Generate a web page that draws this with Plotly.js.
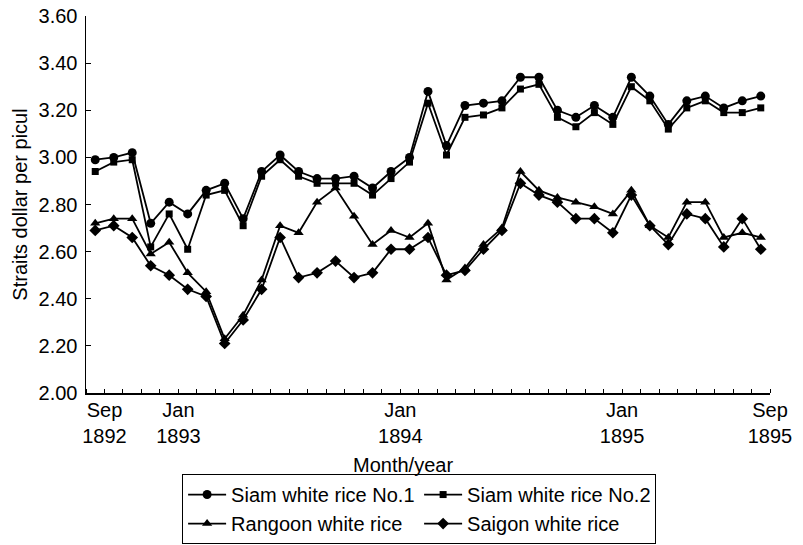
<!DOCTYPE html>
<html>
<head>
<meta charset="utf-8">
<script src="https://cdn.plot.ly/plotly-3.0.1.min.js"></script>
<style>html,body{margin:0;padding:0;background:#fff;}#chart{width:803px;height:545px;}</style>
</head>
<body>
<div id="chart"></div>
<script>
// Monthly observations, Sep 1892 .. Sep 1895
var months = ["Sep 1892","Oct 1892","Nov 1892","Dec 1892","Jan 1893","Feb 1893","Mar 1893","Apr 1893","May 1893","Jun 1893","Jul 1893","Aug 1893","Sep 1893","Oct 1893","Nov 1893","Dec 1893","Jan 1894","Feb 1894","Mar 1894","Apr 1894","May 1894","Jun 1894","Jul 1894","Aug 1894","Sep 1894","Oct 1894","Nov 1894","Dec 1894","Jan 1895","Feb 1895","Mar 1895","Apr 1895","May 1895","Jun 1895","Jul 1895","Aug 1895","Sep 1895"];

var siam1 = [2.99,3.00,3.02,2.72,2.81,2.76,2.86,2.89,2.74,2.94,3.01,2.94,2.91,2.91,2.92,2.87,2.94,3.00,3.28,3.05,3.22,3.23,3.24,3.34,3.34,3.20,3.17,3.22,3.17,3.34,3.26,3.14,3.24,3.26,3.21,3.24,3.26];
var siam2 = [2.94,2.98,2.99,2.62,2.76,2.61,2.84,2.86,2.71,2.92,2.99,2.92,2.89,2.89,2.89,2.84,2.91,2.98,3.23,3.01,3.17,3.18,3.21,3.29,3.31,3.17,3.13,3.19,3.14,3.30,3.24,3.12,3.21,3.24,3.19,3.19,3.21];
var rangoon = [2.72,2.74,2.74,2.59,2.64,2.51,2.43,2.23,2.33,2.48,2.71,2.68,2.81,2.87,2.75,2.63,2.69,2.66,2.72,2.48,2.53,2.63,2.70,2.94,2.86,2.83,2.81,2.79,2.76,2.86,2.71,2.66,2.81,2.81,2.66,2.68,2.66];
var saigon = [2.69,2.71,2.66,2.54,2.50,2.44,2.41,2.21,2.31,2.44,2.66,2.49,2.51,2.56,2.49,2.51,2.61,2.61,2.66,2.50,2.52,2.61,2.69,2.89,2.84,2.81,2.74,2.74,2.68,2.84,2.71,2.63,2.76,2.74,2.62,2.74,2.61];

var seriesNames = ["Siam white rice No.1","Siam white rice No.2","Rangoon white rice","Saigon white rice"];
var tickLabels = ["Sep<br>1892","Jan<br>1893","Jan<br>1894","Jan<br>1895","Sep<br>1895"];
var tickMonths = ["Sep 1892","Jan 1893","Jan 1894","Jan 1895","Sep 1895"];
var yTicks = [2.00,2.20,2.40,2.60,2.80,3.00,3.20,3.40,3.60];
var xTitle = "Month/year";
var yTitle = "Straits dollar per picul";

var xi = months.map(function(m, i){ return i; });
// labels sit on the category boundary just right of their month
var tickPos = tickMonths.map(function(m){ return months.indexOf(m) + 0.5; });

var symbols = ["circle","square","triangle-up","diamond"];
var sizes = [9,7,9,9];
var data = [siam1, siam2, rangoon, saigon].map(function(vals, k){
  return {
    x: xi, y: vals, name: seriesNames[k], type: "scatter", mode: "lines+markers",
    text: months, hoverinfo: "text+y+name",
    line: {color: "#000", width: 1.8},
    marker: {symbol: symbols[k], size: sizes[k], color: "#000"}
  };
});

var font = {family: "Arial, 'Liberation Sans', sans-serif", size: 20, color: "#000"};
var layout = {
  width: 803, height: 545,
  margin: {l: 86, r: 33, t: 16, b: 152, pad: 0, autoexpand: false},
  paper_bgcolor: "#fff", plot_bgcolor: "#fff",
  font: font,
  showlegend: true,
  xaxis: {
    range: [-0.5, 36.5], showgrid: false, zeroline: false,
    showline: true, linecolor: "#000", linewidth: 1.5,
    tickmode: "array", tickvals: tickPos, ticktext: tickLabels,
    ticks: "", ticklabelstandoff: -2,
    minor: {tickmode: "linear", tick0: 0.5, dtick: 1, ticks: "inside", ticklen: 4, tickwidth: 1, tickcolor: "#000", showgrid: false},
    automargin: false
  },
  yaxis: {
    range: [2.0, 3.6], showgrid: false, zeroline: false,
    showline: true, linecolor: "#000", linewidth: 1.5,
    tickmode: "array", tickvals: yTicks, ticktext: yTicks.map(function(v){ return v.toFixed(2); }),
    ticks: "inside", ticklen: 5, tickwidth: 1, tickcolor: "#000",
    ticklabelstandoff: 3,
    title: {text: yTitle, font: font, standoff: 5},
    automargin: false
  },
  annotations: [{
    text: xTitle, xref: "paper", yref: "paper", x: 0.464, y: -0.191,
    xanchor: "center", yanchor: "middle", showarrow: false, font: font
  }],
  legend: {
    orientation: "h", x: 0.487, xanchor: "center", y: -0.215, yanchor: "top",
    bordercolor: "#000", borderwidth: 1, bgcolor: "#fff",
    font: font, entrywidth: 183, entrywidthmode: "pixels",
    itemwidth: 38, tracegroupgap: 0
  }
};

Plotly.newPlot("chart", data, layout, {staticPlot: true, displayModeBar: false});
</script>
</body>
</html>
